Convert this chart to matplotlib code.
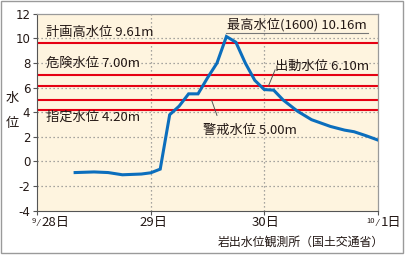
import matplotlib
matplotlib.use("Agg")
import matplotlib.pyplot as plt
from matplotlib.patches import Rectangle

plt.rcParams['font.family'] = ['Noto Sans CJK JP', 'DejaVu Sans']

# data: hours since 9/28 0:00, water level (m)
hours = [8, 12, 15, 18, 22, 24, 26, 28, 30, 32, 34, 36, 38, 40, 42, 44, 46, 48, 50, 52, 55, 58, 62, 65, 67, 69.5, 72]
level = [-0.9, -0.85, -0.9, -1.08, -1.02, -0.92, -0.62, 3.8, 4.5, 5.5, 5.5, 6.8, 8.0, 10.16, 9.7, 8.0, 6.6, 5.85, 5.8, 5.0, 4.1, 3.4, 2.85, 2.55, 2.42, 2.1, 1.75]

ref_levels = [9.61, 7.00, 6.10, 5.00, 4.20]
y_ticks = [-4, -2, 0, 2, 4, 6, 8, 10, 12]
x_ticks = [0, 24, 48, 72]

TXT = '#231815'
RED = '#E60012'
BLUE = '#0B6EBD'
GRID = '#8a8a8a'

fig = plt.figure(figsize=(4.05, 2.56), dpi=100)
fig.patch.set_facecolor('white')
fig.add_artist(Rectangle((0.003, 0.012), 0.992, 0.984, transform=fig.transFigure,
                         fill=False, edgecolor='#9a9a9a', linewidth=1.0))

ax = fig.add_axes([0.0921, 0.177, 0.8405, 0.7687])
ax.set_facecolor('#FEF4DF')
ax.set_xlim(0, 72)
ax.set_ylim(-4, 12)

for y in [-2, 0, 2, 4, 6, 8, 10]:
    ax.axhline(y, color=GRID, linestyle=(0, (1, 2.2)), linewidth=0.9, zorder=1)
for x in [24, 48]:
    ax.axvline(x, color=GRID, linestyle=(0, (1, 2.2)), linewidth=0.9, zorder=1)
for r in ref_levels:
    ax.axhline(r, color=RED, linewidth=1.5, zorder=2)

ax.plot(hours, level, color=BLUE, linewidth=2.2, solid_joinstyle='miter', zorder=4)

ax.set_yticks(y_ticks)
ax.set_yticklabels([str(v) for v in y_ticks], fontsize=8.5, color=TXT, family=['DejaVu Sans'])
ax.set_xticks(x_ticks)
ax.set_xticklabels([])
ax.tick_params(axis='y', length=3, width=0.8, pad=2, colors='#555555', labelcolor=TXT)
ax.tick_params(axis='x', length=3, width=0.8, colors='#555555')

for side in ['top', 'right']:
    ax.spines[side].set_color('#9a9a9a')
    ax.spines[side].set_linewidth(0.9)
ax.spines['left'].set_color('#555555')
ax.spines['bottom'].set_color('#555555')

fs = 9.5
# reference labels
ax.text(1.8, 10.5, '計画高水位 9.61m', fontsize=fs, color=TXT, va='center', ha='left', zorder=5)
ax.text(1.8, 8.02, '危険水位 7.00m', fontsize=fs, color=TXT, va='center', ha='left', zorder=5)
ax.text(1.8, 3.56, '指定水位 4.20m', fontsize=fs, color=TXT, va='center', ha='left', zorder=5)
ax.text(35.0, 2.56, '警戒水位 5.00m', fontsize=fs, color=TXT, va='center', ha='left', zorder=5)
ax.text(50.3, 7.75, '出動水位 6.10m', fontsize=fs, color=TXT, va='center', ha='left', zorder=5)
ax.text(40.2, 11.15, '最高水位(1600) 10.16m', fontsize=fs, color=TXT, va='center', ha='left', zorder=5)

# leader lines
ax.plot([40, 70], [10.45, 10.45], color='#777777', linewidth=0.8, zorder=3)
ax.plot([50.3, 48.9], [7.45, 6.15], color='#555555', linewidth=0.7, zorder=3)
ax.plot([36.9, 38.0], [4.95, 3.75], color='#555555', linewidth=0.7, zorder=3)

# y label
ax.text(-5.2, 5.1, '水', fontsize=fs, color=TXT, ha='center', va='center', clip_on=False)
ax.text(-5.2, 3.05, '位', fontsize=fs, color=TXT, ha='center', va='center', clip_on=False)

# x tick labels
ty = -5.0
ax.text(0.8, ty, '28日', fontsize=fs, color=TXT, ha='left', va='center', clip_on=False)
ax.text(-0.8, ty + 0.15, '9', fontsize=5.5, color=TXT, ha='center', va='center', clip_on=False)
ax.text(0.2, ty - 0.05, '⁄', fontsize=6, color=TXT, ha='center', va='center', clip_on=False, family=['DejaVu Sans'])
ax.text(24.5, ty, '29日', fontsize=fs, color=TXT, ha='center', va='center', clip_on=False)
ax.text(48.2, ty, '30日', fontsize=fs, color=TXT, ha='center', va='center', clip_on=False)
ax.text(70.5, ty + 0.15, '10', fontsize=5.5, color=TXT, ha='center', va='center', clip_on=False)
ax.text(72.0, ty - 0.05, '⁄', fontsize=6, color=TXT, ha='center', va='center', clip_on=False, family=['DejaVu Sans'])
ax.text(72.6, ty, '1日', fontsize=fs, color=TXT, ha='left', va='center', clip_on=False)

ax.text(73.3, -6.55, '岩出水位観測所（国土交通省）', fontsize=8.6, color=TXT, ha='right', va='center', clip_on=False)

fig.savefig('out.png', dpi=100)
